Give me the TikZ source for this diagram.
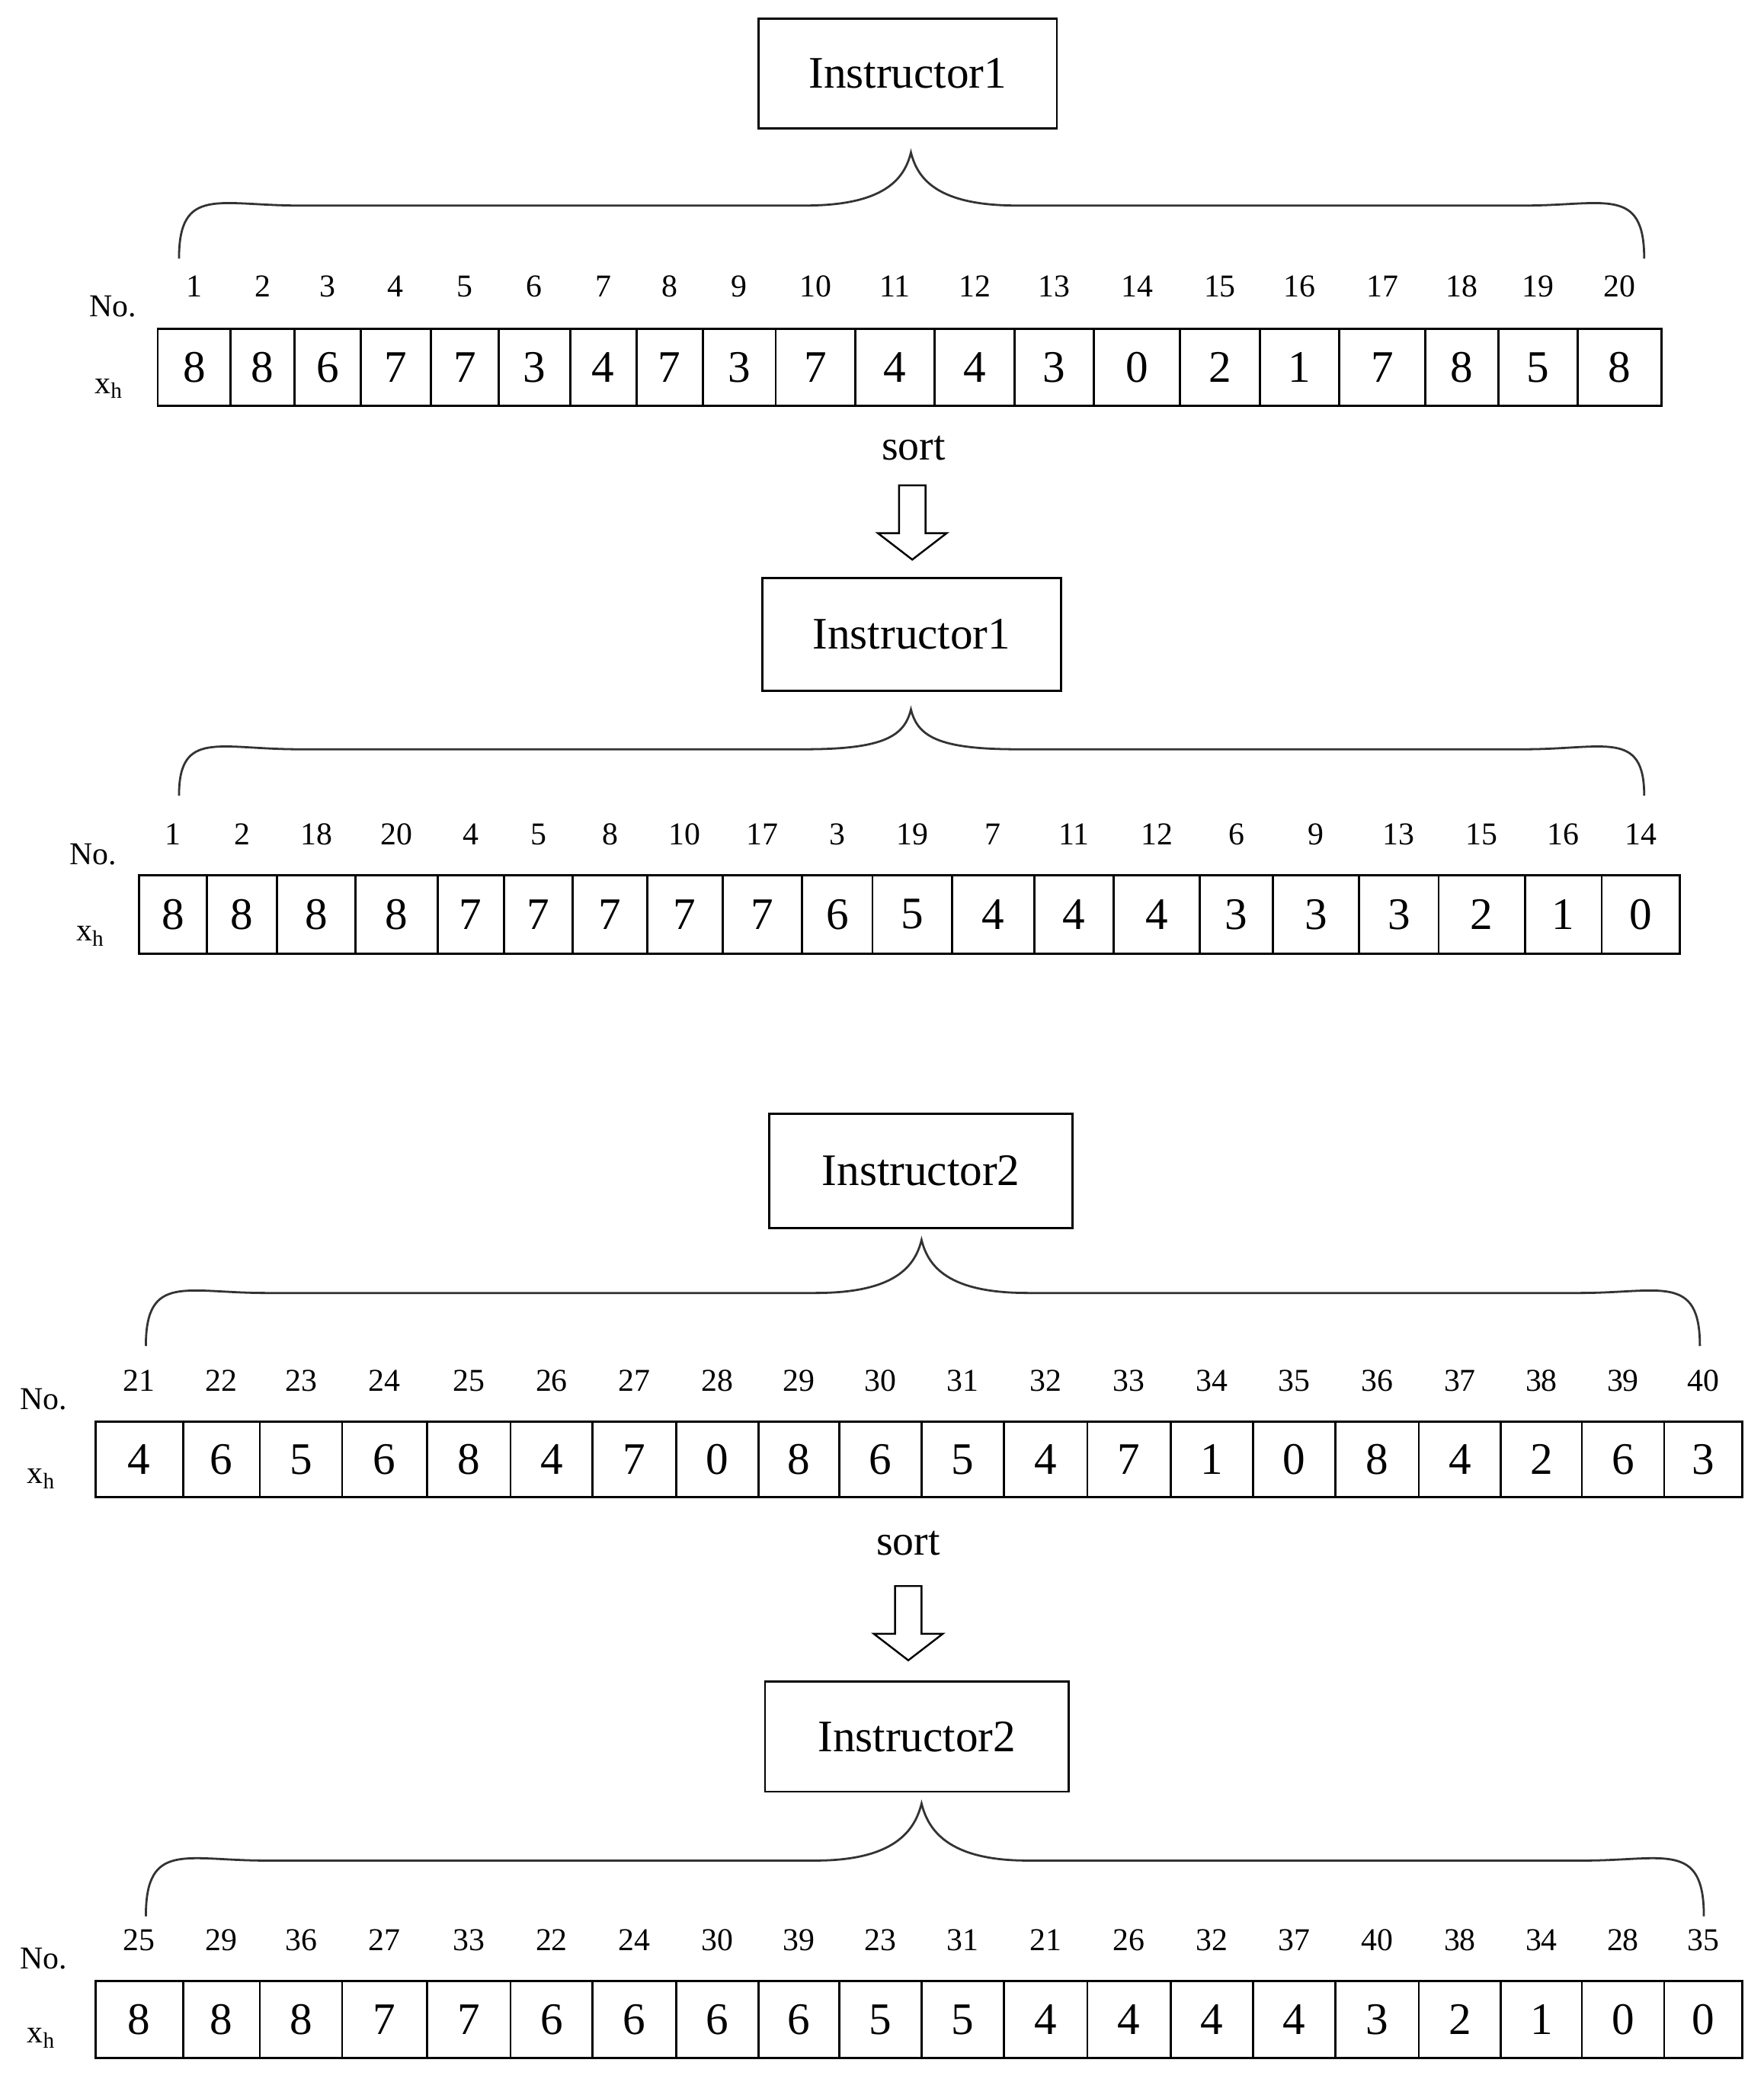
\documentclass[tikz,border=0pt]{standalone}
\usepackage{fontspec}
\setmainfont{Liberation Serif}
\begin{document}
\begin{tikzpicture}[x=1pt,y=-1pt,
  inst/.style={draw,line width=1.6pt,inner sep=0pt,font=\fontsize{34}{36}\selectfont},
  cellv/.style={font=\fontsize{34}{36}\selectfont,inner sep=0pt},
  idx/.style={font=\fontsize{24}{26}\selectfont,inner sep=0pt},
  lab/.style={font=\fontsize{24}{26}\selectfont,inner sep=0pt},
  br/.style={line width=1.6pt,gray!40!black},
  cellb/.style={line width=1.6pt}]
\useasboundingbox (0,0) rectangle (1330,1570);
% brace macro
\newcommand\mybrace[6]{% xl xr xt ytip yline yend
  \draw[br] (#1,#6) .. controls (#1,#5-15) and (#1+30,#5) .. (#1+90,#5)
    -- (#3-80,#5) .. controls (#3-20,#5) and (#3-5,#4+20) .. (#3,#4)
    .. controls (#3+5,#4+20) and (#3+20,#5) .. (#3+80,#5)
    -- (#2-90,#5) .. controls (#2-30,#5) and (#2,#5-15) .. (#2,#6);}
\newcommand\myrow[7]{% prefix y0 y1 boundaries values indices ynum
  \def\B{#4}\def\V{#5}\def\I{#6}
  \foreach \i in {1,...,20}{
    \pgfmathsetmacro\xa{\B[\i-1]}
    \pgfmathsetmacro\xb{\B[\i]}
    \pgfmathsetmacro\v{int(\V[\i-1])}
    \pgfmathsetmacro\n{int(\I[\i-1])}
    \draw[cellb] (\xa,#2) rectangle (\xb,#3);
    \node[cellv] (#1c\i) at ({(\xa+\xb)/2},{(#2+#3)/2}) {\v};
    \node[idx] (#1n\i) at ({(\xa+\xb)/2},#7) {\n};
  }}
\newcommand\myarrow[4]{% name x y0 y1
  \draw[line width=1.4pt] (#2-10,#3) -- (#2+10,#3) -- (#2+10,#4-20) -- (#2+26,#4-20)
    -- (#2,#4) -- (#2-26,#4-20) -- (#2-10,#4-20) -- cycle;
  \coordinate (#1) at (#2,#3);}

% ---- block 1
\node[inst,minimum width=225pt,minimum height=83pt] (i1) at (684.5,55.5) {Instructor1};
\mybrace{135}{1240}{687}{115}{155}{195}
\node[lab] (no1) at (85,231) {No.};
\node[lab] (x1) at (82,293) {x\textsubscript{h}};
\myrow{a}{248}{306}{{119,174,222,272,325,376,430,480,530,585,645,705,765,825,890,950,1010,1075,1130,1190,1253}}{{8,8,6,7,7,3,4,7,3,7,4,4,3,0,2,1,7,8,5,8}}{{1,2,3,4,5,6,7,8,9,10,11,12,13,14,15,16,17,18,19,20}}{216}
\node[font=\fontsize{32}{34}\selectfont,inner sep=0pt] (s1) at (689,338) {sort};
\myarrow{ar1}{688}{366}{422}

\node[inst,minimum width=225pt,minimum height=85pt] (i2) at (687.5,478.5) {Instructor1};
\mybrace{135}{1240}{687}{535}{565}{600}
\node[lab] (no2) at (70,644) {No.};
\node[lab] (x2) at (68,706) {x\textsubscript{h}};
\myrow{b}{660}{719}{{105,156,209,268,330,380,432,488,545,605,658,718,780,840,905,960,1025,1085,1150,1208,1267}}{{8,8,8,8,7,7,7,7,7,6,5,4,4,4,3,3,3,2,1,0}}{{1,2,18,20,4,5,8,10,17,3,19,7,11,12,6,9,13,15,16,14}}{629}

% ---- block 2
\node[inst,minimum width=229pt,minimum height=86pt] (i3) at (694.5,883) {Instructor2};
\mybrace{110}{1282}{695}{935}{975}{1015}
\node[lab] (no3) at (33,1055) {No.};
\node[lab] (x3) at (31,1115) {x\textsubscript{h}};
\myrow{c}{1072}{1129}{{72,138,196,258,322,385,447,510,572,633,695,757,820,883,945,1007,1070,1132,1193,1255,1314}}{{4,6,5,6,8,4,7,0,8,6,5,4,7,1,0,8,4,2,6,3}}{{21,22,23,24,25,26,27,28,29,30,31,32,33,34,35,36,37,38,39,40}}{1041}
\node[font=\fontsize{32}{34}\selectfont,inner sep=0pt] (s2) at (685,1164) {sort};
\myarrow{ar2}{685}{1196}{1252}

\node[inst,minimum width=229pt,minimum height=83pt] (i4) at (691.5,1309.5) {Instructor2};
\mybrace{110}{1285}{695}{1360}{1403}{1445}
\node[lab] (no4) at (33,1477) {No.};
\node[lab] (x4) at (31,1537) {x\textsubscript{h}};
\myrow{d}{1494}{1552}{{72,138,196,258,322,385,447,510,572,633,695,757,820,883,945,1007,1070,1132,1193,1255,1314}}{{8,8,8,7,7,6,6,6,6,5,5,4,4,4,4,3,2,1,0,0}}{{25,29,36,27,33,22,24,30,39,23,31,21,26,32,37,40,38,34,28,35}}{1463}
\end{tikzpicture}
\end{document}
